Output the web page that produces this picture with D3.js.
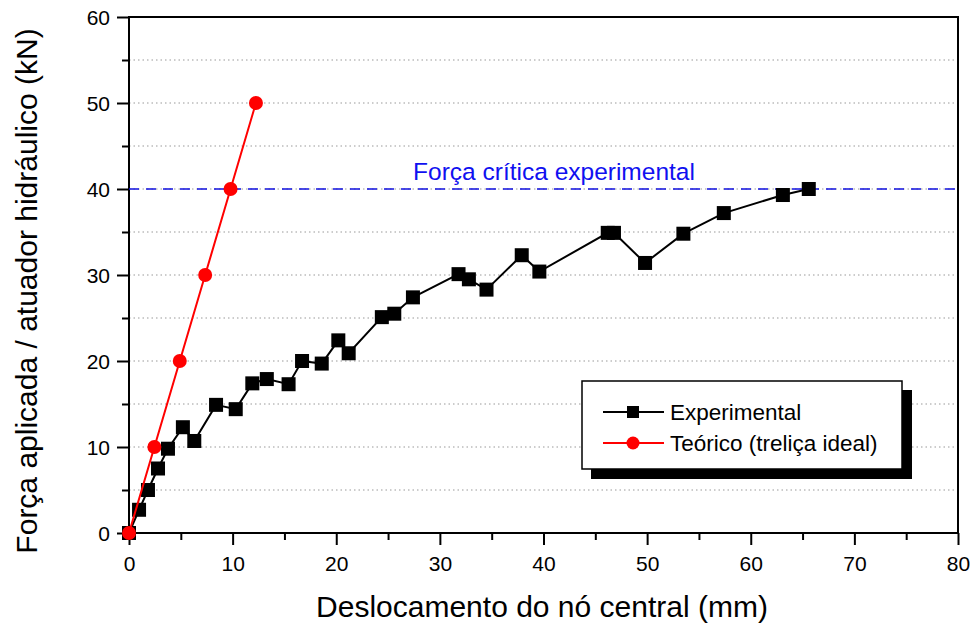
<!DOCTYPE html>
<html><head><meta charset="utf-8">
<script src="https://cdn.jsdelivr.net/npm/d3@7"></script>
<style>body{margin:0;background:#fff;}svg{display:block;font-family:"Liberation Sans",Arial,sans-serif;}</style>
</head><body>
<svg id="c" width="977" height="627"></svg>
<script>
const expX = [0,0.97,1.83,2.8,3.76,5.2,6.3,8.4,10.3,11.9,13.3,15.4,16.7,18.6,20.2,21.2,24.4,25.6,27.4,31.8,32.8,34.5,37.9,39.6,46.2,46.8,49.8,53.5,57.4,63.1,65.6];
const expY = [0,2.7,5.0,7.5,9.8,12.3,10.7,14.9,14.4,17.4,17.9,17.3,20.0,19.7,22.4,20.9,25.1,25.5,27.4,30.1,29.5,28.3,32.3,30.4,34.9,34.9,31.4,34.8,37.2,39.3,40.0];
const teoX = [0,2.45,4.9,7.35,9.8,12.25];
const teoY = [0,10,20,30,40,50];
const xTicks = [0,10,20,30,40,50,60,70,80];
const yTicks = [0,10,20,30,40,50,60];
const criticalForce = 40;

const svg = d3.select("#c");
const L=129,R=958,T=17,B=533;
const x = d3.scaleLinear().domain([0,80]).range([L,R]);
const y = d3.scaleLinear().domain([0,60]).range([B,T]);

// gridlines every 5
const grid = d3.range(5,60,5);
svg.append("g").selectAll("line").data(grid).join("line")
  .attr("x1",L).attr("x2",R).attr("y1",d=>y(d)).attr("y2",d=>y(d))
  .attr("stroke","#999").attr("stroke-width",1).attr("stroke-dasharray","1.5,3");

// axes
const xAx = svg.append("g").attr("transform",`translate(0,${B})`)
  .call(d3.axisBottom(x).tickValues(xTicks).tickSize(12).tickPadding(4).tickFormat(d3.format("d")));
const xMin = svg.append("g").attr("transform",`translate(0,${B})`)
  .call(d3.axisBottom(x).tickValues(d3.range(5,80,10)).tickSize(7).tickFormat(""));
const yAx = svg.append("g").attr("transform",`translate(${L},0)`)
  .call(d3.axisLeft(y).tickValues(yTicks).tickSize(12).tickPadding(7).tickFormat(d3.format("d")));
const yMin = svg.append("g").attr("transform",`translate(${L},0)`)
  .call(d3.axisLeft(y).tickValues(d3.range(5,60,10)).tickSize(7).tickFormat(""));
[xAx,xMin,yAx,yMin].forEach(g=>{
  g.select(".domain").remove();
  g.selectAll("line").attr("stroke","#000").attr("stroke-width",2);
  g.selectAll("text").attr("font-size",21).attr("fill","#000").attr("font-family","Liberation Sans, Arial, sans-serif");
});
xAx.selectAll("text").attr("y",38).attr("dy",0);
yAx.selectAll("text").attr("dy","0.36em");

// frame
svg.append("rect").attr("x",L).attr("y",T).attr("width",R-L).attr("height",B-T)
  .attr("fill","none").attr("stroke","#000").attr("stroke-width",2);

// critical line
svg.append("line").attr("x1",L).attr("x2",R).attr("y1",y(criticalForce)).attr("y2",y(criticalForce))
  .attr("stroke","#1010e0").attr("stroke-width",1.5).attr("stroke-dasharray","10,7");
svg.append("text").attr("x",554).attr("y",180).attr("text-anchor","middle")
  .attr("font-size",24.5).attr("fill","#1010f0").text("Força crítica experimental");

// experimental
const expData = expX.map((v,i)=>[v,expY[i]]);
const teoData = teoX.map((v,i)=>[v,teoY[i]]);
const line = d3.line().x(d=>x(d[0])).y(d=>y(d[1]));
svg.append("path").datum(expData).attr("d",line).attr("fill","none").attr("stroke","#000").attr("stroke-width",2);
svg.append("g").selectAll("rect").data(expData).join("rect")
  .attr("x",d=>x(d[0])-7).attr("y",d=>y(d[1])-7).attr("width",14).attr("height",14).attr("fill","#000");

svg.append("path").datum(teoData).attr("d",line).attr("fill","none").attr("stroke","#f00").attr("stroke-width",2);
svg.append("g").selectAll("circle").data(teoData).join("circle")
  .attr("cx",d=>x(d[0])).attr("cy",d=>y(d[1])).attr("r",7).attr("fill","#f00");

// legend
const lg = svg.append("g");
lg.append("rect").attr("x",591).attr("y",390).attr("width",321).attr("height",89).attr("fill","#000");
lg.append("rect").attr("x",582).attr("y",381).attr("width",320).attr("height",88).attr("fill","#fff").attr("stroke","#000").attr("stroke-width",1.5);
const items = [{t:"Experimental",c:"#000",m:"sq",yy:412},{t:"Teórico (treliça ideal)",c:"#f00",m:"ci",yy:443}];
items.forEach(it=>{
  lg.append("line").attr("x1",603).attr("x2",664).attr("y1",it.yy).attr("y2",it.yy).attr("stroke",it.c).attr("stroke-width",2);
  if(it.m==="sq") lg.append("rect").attr("x",633-6).attr("y",it.yy-6).attr("width",12).attr("height",12).attr("fill",it.c);
  else lg.append("circle").attr("cx",633).attr("cy",it.yy).attr("r",6.5).attr("fill",it.c);
  lg.append("text").attr("x",670).attr("y",it.yy).attr("dy","0.36em").attr("font-size",22.5).attr("fill","#000").text(it.t);
});

// axis titles
svg.append("text").attr("x",542).attr("y",617).attr("text-anchor","middle").attr("font-size",30).text("Deslocamento do nó central (mm)");
svg.append("text").attr("transform","translate(37,291) rotate(-90)").attr("text-anchor","middle").attr("font-size",30).text("Força aplicada / atuador hidráulico (kN)");
</script>
</body></html>
